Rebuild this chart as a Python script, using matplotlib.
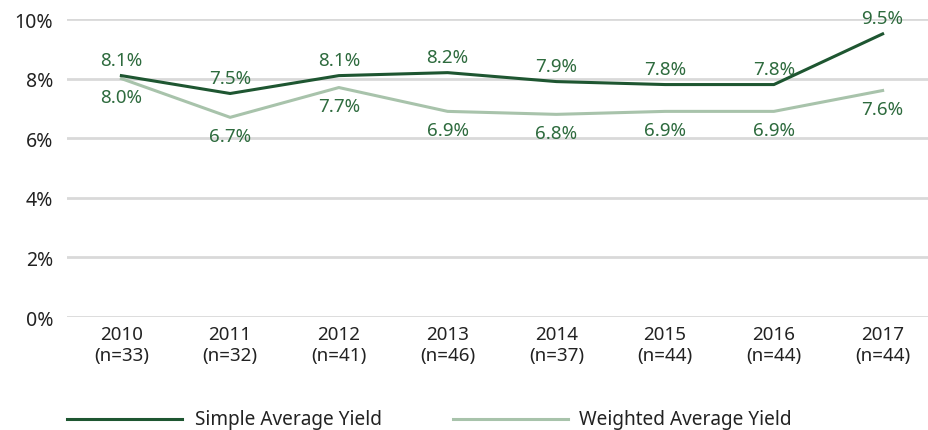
import matplotlib.pyplot as plt
from matplotlib.lines import Line2D

years = ['2010', '2011', '2012', '2013', '2014', '2015', '2016', '2017']
counts = [33, 32, 41, 46, 37, 44, 44, 44]
simple_yield = [8.1, 7.5, 8.1, 8.2, 7.9, 7.8, 7.8, 9.5]
weighted_yield = [8.0, 6.7, 7.7, 6.9, 6.8, 6.9, 6.9, 7.6]

dark = '#1e5631'
light = '#a8c3ab'
label_col = '#2e6b3e'
W, H = 929, 431

plt.rcParams['font.family'] = ['Noto Sans', 'DejaVu Sans']

fig = plt.figure(figsize=(W / 100, H / 100), dpi=100)
ax = fig.add_axes([67 / W, 1 - 318 / H, 870 / W, 298 / H])

x = list(range(len(years)))
ax.plot(x, weighted_yield, color=light, lw=2.2, zorder=3)
ax.plot(x, simple_yield, color=dark, lw=2.2, zorder=4)

for i in x:
    ax.annotate(f'{simple_yield[i]:.1f}%', (i, simple_yield[i]), xytext=(0, 5),
                textcoords='offset points', ha='center', va='bottom',
                color=label_col, fontsize=13.5)
    ax.annotate(f'{weighted_yield[i]:.1f}%', (i, weighted_yield[i]), xytext=(0, -7),
                textcoords='offset points', ha='center', va='top',
                color=label_col, fontsize=13.5)

ax.set_xlim(-0.5, 7.5)
ax.set_ylim(0, 10)
ax.set_yticks(range(0, 11, 2))
ax.set_yticklabels([f'{v}%' for v in range(0, 11, 2)], fontsize=14, color='#222222')
ax.set_xticks(x)
ax.set_xticklabels([f'{y}\n(n={n})' for y, n in zip(years, counts)],
                   fontsize=13.5, color='#222222', linespacing=1.2)
ax.tick_params(length=0, pad=6)
ax.tick_params(axis='y', pad=10)
ax.grid(axis='y', color='#d9d9d9', lw=2)
ax.set_axisbelow(True)
for s in ax.spines.values():
    s.set_visible(False)

# legend drawn by hand to match spacing
ly = 1 - 420 / H
for (x0, x1, tx), col, lab in [((67, 182, 195), dark, 'Simple Average Yield'),
                               ((453, 568, 579), light, 'Weighted Average Yield')]:
    fig.add_artist(Line2D([x0 / W, x1 / W], [ly, ly], color=col, lw=2.2))
    fig.text(tx / W, ly, lab, ha='left', va='center', fontsize=13.7, color='#222222')

fig.savefig('out.png', dpi=100)
